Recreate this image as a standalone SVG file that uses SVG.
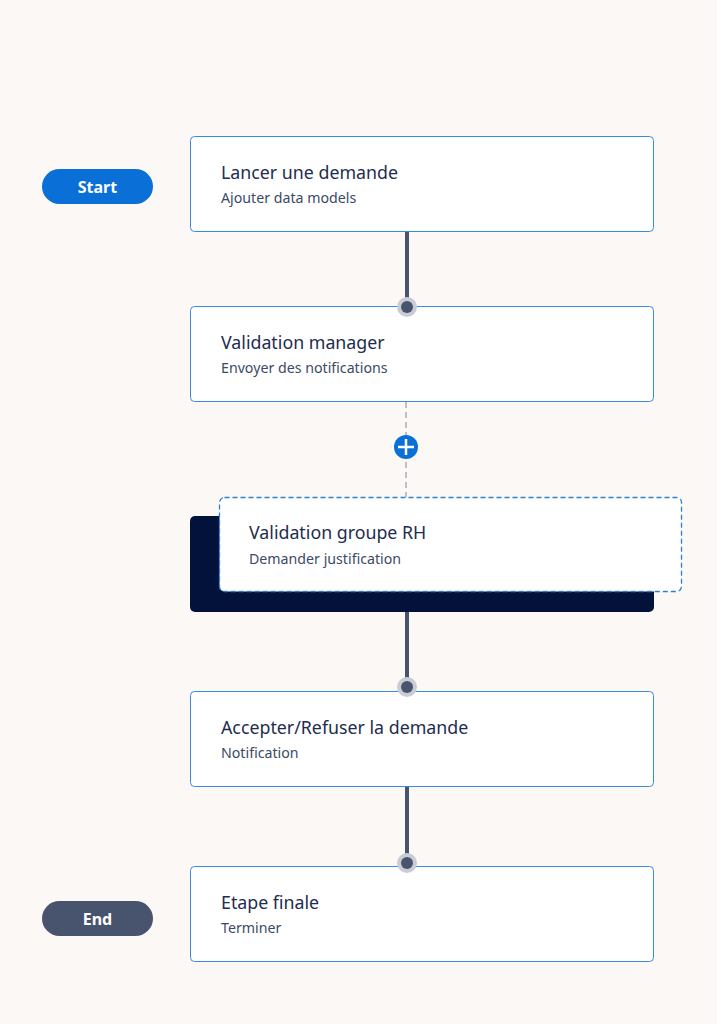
<svg xmlns="http://www.w3.org/2000/svg" width="717" height="1024" viewBox="0 0 717 1024">
<style>
.node{fill:#ffffff;stroke:#3a8ae0;stroke-width:1}
.title{font-family:"Noto Sans",sans-serif;font-size:17.8px;fill:#1e2d4f}
.sub{font-family:"Noto Sans",sans-serif;font-size:14.2px;fill:#3b4a66}
.pilltxt{font-family:"Noto Sans",sans-serif;font-size:16px;font-weight:bold;fill:#ffffff}
.conn{stroke:#48536e;stroke-width:4}
.halo{fill:#c9ccd5}
.dot{fill:#48536e}
</style>
<rect width="717" height="1024" fill="#fbf8f6"/>
<g id="start">
<rect x="42" y="169" width="111" height="35" rx="17.5" fill="#0a6fd6"/>
<text class="pilltxt" x="97.5" y="192.5" text-anchor="middle">Start</text>
</g>
<g id="end">
<rect x="42" y="901" width="111" height="35" rx="17.5" fill="#48536e"/>
<text class="pilltxt" x="97.5" y="924.5" text-anchor="middle">End</text>
</g>
<g id="node1">
<rect class="node" x="190.5" y="136.5" width="463" height="95" rx="4"/>
<text class="title" x="221" y="179">Lancer une demande</text>
<text class="sub" x="221" y="202.5">Ajouter data models</text>
</g>
<g id="node2">
<rect class="node" x="190.5" y="306.5" width="463" height="95" rx="4"/>
<text class="title" x="221" y="349">Validation manager</text>
<text class="sub" x="221" y="372.5">Envoyer des notifications</text>
</g>
<g id="node3">
<rect x="190" y="516" width="464" height="96" rx="5" fill="#02123a"/>
<rect x="219.5" y="497.5" width="462" height="94" rx="5" fill="#ffffff" stroke="#2f7fd0" stroke-width="1.3" stroke-dasharray="5 3"/>
<text class="title" x="249" y="539">Validation groupe RH</text>
<text class="sub" x="249" y="563.5">Demander justification</text>
</g>
<g id="node4">
<rect class="node" x="190.5" y="691.5" width="463" height="95" rx="4"/>
<text class="title" x="221" y="734">Accepter/Refuser la demande</text>
<text class="sub" x="221" y="757.5">Notification</text>
</g>
<g id="node5">
<rect class="node" x="190.5" y="866.5" width="463" height="95" rx="4"/>
<text class="title" x="221" y="909">Etape finale</text>
<text class="sub" x="221" y="932.5">Terminer</text>
</g>
<g id="connectors">
<line class="conn" x1="407" y1="232" x2="407" y2="306"/>
<circle class="halo" cx="407" cy="307" r="10"/>
<circle class="dot" cx="407" cy="307" r="6"/>
<line x1="406" y1="402" x2="406" y2="497" stroke="#7f889c" stroke-width="1" stroke-dasharray="6 4"/>
<line class="conn" x1="407" y1="612" x2="407" y2="686"/>
<circle class="halo" cx="407" cy="687" r="10"/>
<circle class="dot" cx="407" cy="687" r="6"/>
<line class="conn" x1="407" y1="787" x2="407" y2="862"/>
<circle class="halo" cx="407" cy="863" r="10"/>
<circle class="dot" cx="407" cy="863" r="6"/>
</g>
<g id="add">
<circle cx="406" cy="447" r="12" fill="#0a6fd6"/>
<path d="M398 447h16M406 439v16" stroke="#ffffff" stroke-width="2.5"/>
</g>
</svg>
